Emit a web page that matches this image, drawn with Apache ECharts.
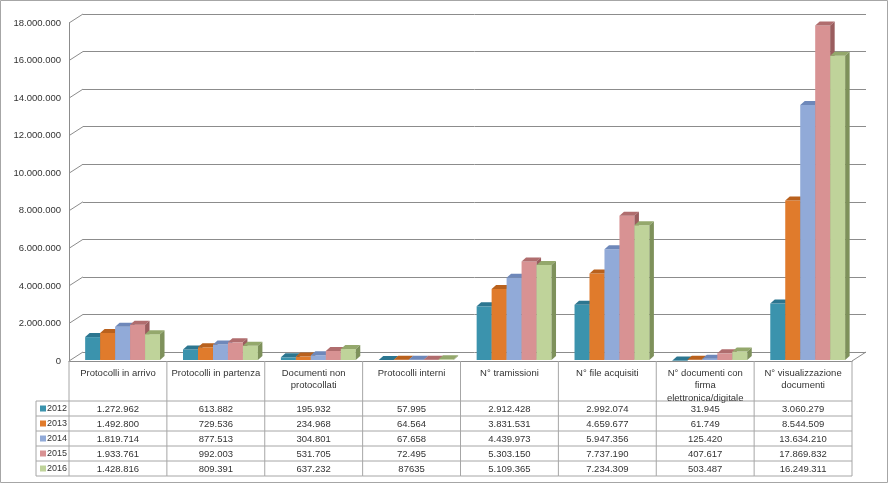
<!DOCTYPE html>
<html>
<head>
<meta charset="utf-8">
<script src="https://cdn.jsdelivr.net/npm/echarts@6/dist/echarts.min.js"></script>
<style>
html,body{margin:0;padding:0;background:#fff;}
#chart{width:889px;height:484px;}
</style>
</head>
<body>
<div id="chart"></div>
<script>
// ---- data (as shown in the table) ----
const categories = [
  'Protocolli in arrivo',
  'Protocolli in partenza',
  'Documenti non protocollati',
  'Protocolli interni',
  'N° tramissioni',
  'N° file acquisiti',
  'N° documenti con firma elettronica/digitale',
  'N° visualizzazione documenti'
];
const years = ['2012', '2013', '2014', '2015', '2016'];
const s2012 = ['1.272.962', '613.882', '195.932', '57.995', '2.912.428', '2.992.074', '31.945', '3.060.279'];
const s2013 = ['1.492.800', '729.536', '234.968', '64.564', '3.831.531', '4.659.677', '61.749', '8.544.509'];
const s2014 = ['1.819.714', '877.513', '304.801', '67.658', '4.439.973', '5.947.356', '125.420', '13.634.210'];
const s2015 = ['1.933.761', '992.003', '531.705', '72.495', '5.303.150', '7.737.190', '407.617', '17.869.832'];
const s2016 = ['1.428.816', '809.391', '637.232', '87635', '5.109.365', '7.234.309', '503.487', '16.249.311'];
const yTicks = [0, 2000000, 4000000, 6000000, 8000000, 10000000, 12000000, 14000000, 16000000, 18000000];

const seriesText = [s2012, s2013, s2014, s2015, s2016];
const toNum = s => Number(String(s).replace(/\./g, ''));
const seriesVals = seriesText.map(arr => arr.map(toNum));

// ---- styles ----
const FRONT = ['#3b93ad', '#e07b2c', '#91aad8', '#d89293', '#bfd39a'];
const TOP   = ['#2c7690', '#b9611d', '#6e88ba', '#b06d6e', '#94a86c'];
const SIDE  = ['#24647a', '#9c5218', '#5f77a6', '#9a5d5e', '#7e915b'];
const DX = 14, DY = 9;       // wall depth
const BDX = 4.5, BDY = 4;    // bar depth
const LINE = '#8c8c8c';
const TLINE = '#a6a6a6';
const FONT = 'Liberation Sans';
const FS = 9.5;
const TXT = '#333333';
const fmt = v => String(v).replace(/\B(?=(\d{3})+(?!\d))/g, '.');

// word wrap on spaces only
const mctx = document.createElement('canvas').getContext('2d');
mctx.font = FS + 'px "' + FONT + '"';
function wrap(text, maxW) {
  const words = text.split(' ');
  const lines = [];
  let cur = '';
  words.forEach(w => {
    const t = cur ? cur + ' ' + w : w;
    if (cur && mctx.measureText(t).width > maxW) { lines.push(cur); cur = w; }
    else cur = t;
  });
  if (cur) lines.push(cur);
  return lines.join('\n');
}

const chart = echarts.init(document.getElementById('chart'), null, {renderer: 'canvas'});

function barRender(s) {
  return function (params, api) {
    const ci = api.value(0), val = api.value(1);
    const base = api.coord([ci, 0]);
    const top = api.coord([ci, val]);
    const band = api.size([1, 0])[0];
    const bw = band * 0.153;
    const x = base[0] - band / 2 + band * 0.165 + s * bw;
    const ty = top[1], by = base[1] - 1;
    return {
      type: 'group',
      children: [
        {type: 'rect', shape: {x: x, y: ty, width: bw, height: by - ty},
         style: {fill: FRONT[s]}},
        {type: 'polygon', shape: {points: [[x, ty], [x + BDX, ty - BDY], [x + bw + BDX, ty - BDY], [x + bw, ty]]},
         style: {fill: TOP[s]}},
        {type: 'polygon', shape: {points: [[x + bw, ty], [x + bw + BDX, ty - BDY], [x + bw + BDX, by - BDY], [x + bw, by]]},
         style: {fill: SIDE[s]}}
      ]
    };
  };
}

function wallRender(params, api) {
  const v = api.value(1);
  const p = api.coord([0, v]);
  const cs = params.coordSys;
  const children = [
    {type: 'line', shape: {x1: cs.x, y1: p[1], x2: cs.x + DX, y2: p[1] - DY},
     style: {stroke: LINE, lineWidth: 1}}
  ];
  if (v === 0) {
    const xr = cs.x + cs.width;
    children.push({type: 'line', shape: {x1: xr, y1: p[1], x2: xr + DX, y2: p[1] - DY},
      style: {stroke: LINE, lineWidth: 1}});
  }
  return {type: 'group', children: children};
}

const HEAD = 40, ROW = 15;
function tableRender(params, api) {
  const ci = api.value(0);
  const p = api.coord([ci, 0]);
  const band = api.size([1, 0])[0];
  const xl = p[0] - band / 2, xr = p[0] + band / 2;
  const y0 = p[1];
  const yEnd = y0 + HEAD + ROW * years.length;
  const ls = {stroke: TLINE, lineWidth: 1};
  const ch = [];
  ch.push({type: 'line', shape: {x1: xr, y1: y0, x2: xr, y2: yEnd}, style: ls});
  for (let k = 0; k <= years.length; k++) {
    const y = y0 + HEAD + k * ROW;
    ch.push({type: 'line', shape: {x1: xl, y1: y, x2: xr, y2: y}, style: ls});
  }
  ch.push({type: 'text', x: p[0], y: y0 + 6,
    style: {text: wrap(categories[ci], band - 6), align: 'center', verticalAlign: 'top',
      lineHeight: 12.5, fontSize: FS, fontFamily: FONT, fill: TXT}});
  for (let k = 0; k < years.length; k++) {
    ch.push({type: 'text', x: p[0], y: y0 + HEAD + k * ROW + ROW / 2 + 0.5,
      style: {text: seriesText[k][ci], align: 'center', verticalAlign: 'middle',
        fontSize: FS, fontFamily: FONT, fill: TXT}});
  }
  if (ci === 0) {
    const lx = xl - 33;
    ch.push({type: 'line', shape: {x1: xl, y1: y0, x2: xl, y2: yEnd}, style: ls});
    ch.push({type: 'line', shape: {x1: lx, y1: y0 + HEAD, x2: lx, y2: yEnd}, style: ls});
    for (let k = 0; k <= years.length; k++) {
      const y = y0 + HEAD + k * ROW;
      ch.push({type: 'line', shape: {x1: lx, y1: y, x2: xl, y2: y}, style: ls});
    }
    for (let k = 0; k < years.length; k++) {
      const cy = y0 + HEAD + k * ROW + ROW / 2;
      ch.push({type: 'rect', shape: {x: lx + 4, y: cy - 3, width: 6, height: 6}, style: {fill: FRONT[k]}});
      ch.push({type: 'text', x: lx + 11, y: cy + 0.5,
        style: {text: years[k], align: 'left', verticalAlign: 'middle', fontSize: 9, fontFamily: FONT, fill: TXT}});
    }
  }
  return {type: 'group', children: ch};
}

const series = [
  {type: 'custom', xAxisIndex: 0, yAxisIndex: 0, renderItem: wallRender,
   data: yTicks.map(v => [0, v]), silent: true, z: 1},
  {type: 'custom', xAxisIndex: 0, yAxisIndex: 0, renderItem: tableRender,
   data: categories.map((c, i) => [i, 0]), silent: true, z: 1}
];
years.forEach((y, s) => {
  series.push({type: 'custom', name: y, xAxisIndex: 0, yAxisIndex: 0, renderItem: barRender(s),
    data: categories.map((c, i) => [i, seriesVals[s][i]]), z: 3});
});

chart.setOption({
  animation: false,
  backgroundColor: '#ffffff',
  graphic: [{type: 'rect', shape: {x: 0.5, y: 0.5, width: 887, height: 482},
    style: {fill: 'none', stroke: '#a6a6a6', lineWidth: 1}, z: 0}],
  grid: [
    {left: 69, right: 37, top: 23, bottom: 123},
    {left: 83, right: 23, top: 14, bottom: 132}
  ],
  xAxis: [
    {type: 'category', gridIndex: 0, data: categories, boundaryGap: true,
     axisLine: {show: true, lineStyle: {color: LINE}}, axisTick: {show: false}, axisLabel: {show: false}},
    {type: 'category', gridIndex: 1, data: categories, show: false}
  ],
  yAxis: [
    {type: 'value', gridIndex: 0, min: 0, max: 18000000, interval: 2000000,
     axisLine: {show: true, lineStyle: {color: LINE}}, axisTick: {show: false}, splitLine: {show: false},
     axisLabel: {formatter: v => fmt(v), fontSize: FS, fontFamily: FONT, color: TXT, margin: 8}},
    {type: 'value', gridIndex: 1, min: 0, max: 18000000, interval: 2000000,
     axisLine: {show: false}, axisTick: {show: false}, axisLabel: {show: false},
     splitLine: {show: true, lineStyle: {color: LINE, width: 1}}}
  ],
  series: series
});
</script>
</body>
</html>
